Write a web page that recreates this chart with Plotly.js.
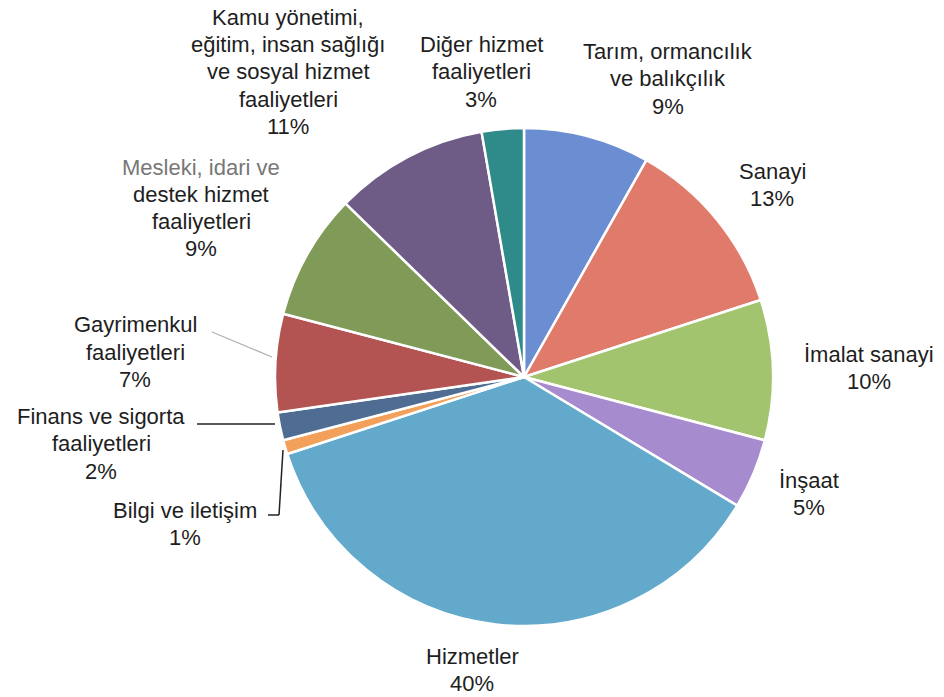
<!DOCTYPE html>
<html>
<head>
<meta charset="utf-8">
<script src="https://cdn.plot.ly/plotly-3.0.1.min.js"></script>
<style>html,body{margin:0;padding:0;background:#fff;}#chart{width:944px;height:697px;}</style>
</head>
<body>
<div id="chart"></div>
<script>
// Data
const sectors = [
  "Tarım, ormancılık ve balıkçılık",
  "Sanayi",
  "İmalat sanayi",
  "İnşaat",
  "Hizmetler",
  "Bilgi ve iletişim",
  "Finans ve sigorta faaliyetleri",
  "Gayrimenkul faaliyetleri",
  "Mesleki, idari ve destek hizmet faaliyetleri",
  "Kamu yönetimi, eğitim, insan sağlığı ve sosyal hizmet faaliyetleri",
  "Diğer hizmet faaliyetleri"
];
const shares = [9, 13, 10, 5, 40, 1, 2, 7, 9, 11, 3];
const percentLabels = ["9%", "13%", "10%", "5%", "40%", "1%", "2%", "7%", "9%", "11%", "3%"];
const labelLines = [
  ["Tarım, ormancılık", "ve balıkçılık"],
  ["Sanayi"],
  ["İmalat sanayi"],
  ["İnşaat"],
  ["Hizmetler"],
  ["Bilgi ve iletişim"],
  ["Finans ve sigorta", "faaliyetleri"],
  ["Gayrimenkul", "faaliyetleri"],
  ["Mesleki, idari ve", "destek hizmet", "faaliyetleri"],
  ["Kamu yönetimi,", "eğitim, insan sağlığı", "ve sosyal hizmet", "faaliyetleri"],
  ["Diğer hizmet", "faaliyetleri"]
];
const colors = ["#6b8dd1", "#e07a6b", "#a2c46e", "#a68bcf", "#63a9cc", "#f2a05a",
                "#4f6c93", "#b35452", "#809b58", "#6e5c86", "#2f8a8a"];

// Layout helpers (pixel -> paper)
const W = 944, H = 697;
const px = x => x / W;
const py = y => 1 - y / H;
const cx = 524, cy = 377, R = 249;
const LINE = 27.2;

// label block centers in pixels
const labelPos = [
  [668, 79], [772, 185], [869, 368], [809, 494], [472, 670], [185, 524],
  [101, 444], [135, 352], [201, 208], [288, 72], [481, 72]
];

const annotations = [];
sectors.forEach((s, i) => {
  const lines = labelLines[i].concat([percentLabels[i]]);
  const n = lines.length;
  lines.forEach((t, k) => {
    annotations.push({
      x: px(labelPos[i][0]), y: py(labelPos[i][1] + (k - (n - 1) / 2) * LINE),
      xref: 'paper', yref: 'paper', xanchor: 'center', yanchor: 'middle',
      showarrow: false, align: 'center', text: t,
      font: {family: 'Liberation Sans, Arial, sans-serif', size: 22,
             color: (i === 8 && k === 0) ? '#777777' : '#1e1e1e'}
    });
  });
});

const line = (x0, y0, x1, y1, c, w) => ({
  type: 'line', xref: 'paper', yref: 'paper',
  x0: px(x0), y0: py(y0), x1: px(x1), y1: py(y1),
  line: {color: c, width: w}
});
const shapes = [
  line(212, 332, 272, 357, '#b0b0b0', 1.2),
  line(197, 424, 275, 424, '#222', 1.5),
  line(268, 515, 279, 515, '#222', 1.5),
  line(279, 515, 283, 450, '#222', 1.5)
];

const trace = {
  type: 'pie',
  values: shares,
  labels: sectors,
  sort: false,
  direction: 'clockwise',
  rotation: 0,
  textinfo: 'none',
  hoverinfo: 'skip',
  marker: {colors: colors, line: {color: '#ffffff', width: 2.5}},
  domain: {x: [px(cx - R), px(cx + R)], y: [py(cy + R), py(cy - R)]},
  showlegend: false
};

Plotly.newPlot('chart', [trace], {
  width: W, height: H,
  margin: {l: 0, r: 0, t: 0, b: 0},
  paper_bgcolor: '#ffffff',
  showlegend: false,
  annotations: annotations,
  shapes: shapes
}, {displayModeBar: false, staticPlot: true});
</script>
</body>
</html>
